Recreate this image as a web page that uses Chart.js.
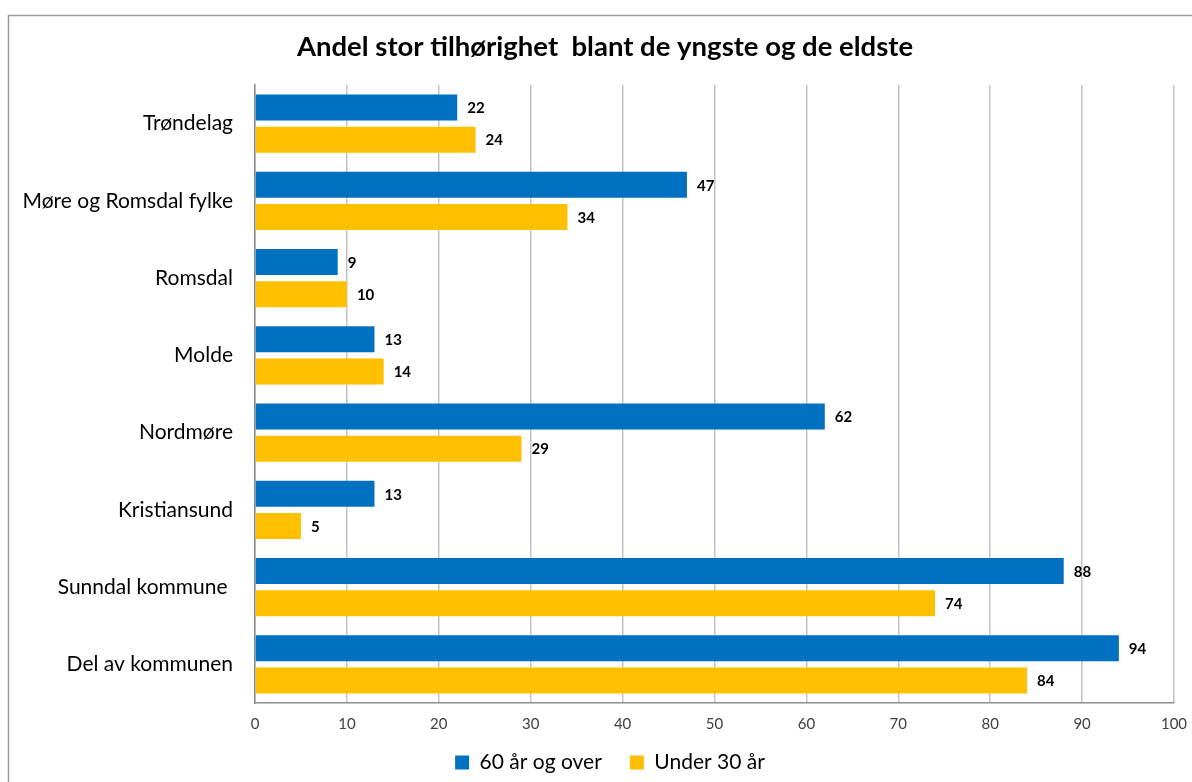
<!DOCTYPE html>
<html>
<head>
<meta charset="utf-8">
<script src="https://cdn.jsdelivr.net/npm/chart.js@4.4.1/dist/chart.umd.min.js"></script>
<style>
  html, body { margin: 0; padding: 0; background: #fff; }
  #chart { display: block; }
</style>
</head>
<body>
<canvas id="chart" width="1192" height="782"></canvas>
<script>
// Data
const categories = ["Trøndelag", "Møre og Romsdal fylke", "Romsdal", "Molde", "Nordmøre", "Kristiansund", "Sunndal kommune ", "Del av kommunen"];
const seriesOld = [22, 47, 9, 13, 62, 13, 88, 94];
const seriesYoung = [24, 34, 10, 14, 29, 5, 74, 84];
const seriesNames = ["60 år og over", "Under 30 år"];
const xTicks = [0, 10, 20, 30, 40, 50, 60, 70, 80, 90, 100];

const FONT = "Lato, 'Open Sans', sans-serif";

// Ramme og hvit bakgrunn
const framePlugin = {
    id: "frame",
    beforeDraw(chart) {
        const ctx = chart.ctx;
        ctx.save();
        ctx.fillStyle = "#fff";
        ctx.fillRect(0, 0, chart.width, chart.height);
        ctx.strokeStyle = "#9a9a9a";
        ctx.lineWidth = 1.5;
        ctx.beginPath();
        ctx.moveTo(8.5, chart.height);
        ctx.lineTo(8.5, 15.5);
        ctx.lineTo(chart.width, 15.5);
        ctx.stroke();
        ctx.restore();
    }
};

// Flytt tittel og forklaring slik som i Excel-figuren
const nudgePlugin = {
    id: "nudge",
    afterLayout(chart) {
        chart.titleBlock.left += 18;
        chart.titleBlock.right += 18;
        chart.legend.left += 23;
        chart.legend.right += 23;
        chart.legend.top -= 21;
        chart.legend.bottom -= 21;
    }
};

// Verdier ved enden av stolpene
const valueLabels = {
    id: "valueLabels",
    afterDatasetsDraw(chart) {
        const ctx = chart.ctx;
        ctx.save();
        ctx.font = "bold 15px " + FONT;
        ctx.fillStyle = "#000";
        ctx.textAlign = "left";
        ctx.textBaseline = "middle";
        chart.data.datasets.forEach((ds, i) => {
            chart.getDatasetMeta(i).data.forEach((bar, j) => {
                ctx.fillText(ds.data[j], bar.x + 10, bar.y + 1);
            });
        });
        ctx.restore();
    }
};

new Chart(document.getElementById("chart"), {
    type: "bar",
    data: {
        labels: categories,
        datasets: [
            {
                label: seriesNames[0],
                data: seriesOld,
                backgroundColor: "#0070C0"
            },
            {
                label: seriesNames[1],
                data: seriesYoung,
                backgroundColor: "#FFC000"
            }
        ]
    },
    options: {
        indexAxis: "y",
        responsive: false,
        animation: false,
        categoryPercentage: 0.83,
        barPercentage: 0.81,
        layout: {
            padding: { left: 0, right: 18, top: 0, bottom: -22 }
        },
        scales: {
            x: {
                min: 0,
                max: 100,
                afterBuildTicks(scale) {
                    scale.ticks = xTicks.map(v => ({ value: v }));
                },
                afterFit(scale) {
                    scale.paddingRight = 0;
                },
                grid: {
                    color: "#c4c4c4",
                    lineWidth: 1.5,
                    drawTicks: false
                },
                border: { display: true, color: "#8c8c8c", width: 1.5 },
                ticks: {
                    color: "#404040",
                    padding: 12,
                    autoSkip: false,
                    maxRotation: 0,
                    font: { family: FONT, size: 15 }
                }
            },
            y: {
                grid: { display: false, drawTicks: false },
                border: { display: true, color: "#8c8c8c", width: 1.5 },
                afterFit(scale) {
                    scale.width = 255;
                },
                ticks: {
                    color: "#000",
                    padding: 22,
                    font: { family: FONT, size: 21 }
                }
            }
        },
        plugins: {
            title: {
                display: true,
                text: "Andel stor tilhørighet  blant de yngste og de eldste",
                color: "#000",
                font: { family: FONT, size: 27.5, weight: "bold" },
                padding: { top: 31, bottom: 21 }
            },
            legend: {
                position: "bottom",
                labels: {
                    color: "#000",
                    boxWidth: 14,
                    boxHeight: 14,
                    padding: 28,
                    font: { family: FONT, size: 21 }
                }
            },
            tooltip: { enabled: false }
        }
    },
    plugins: [framePlugin, nudgePlugin, valueLabels]
});
</script>
</body>
</html>
